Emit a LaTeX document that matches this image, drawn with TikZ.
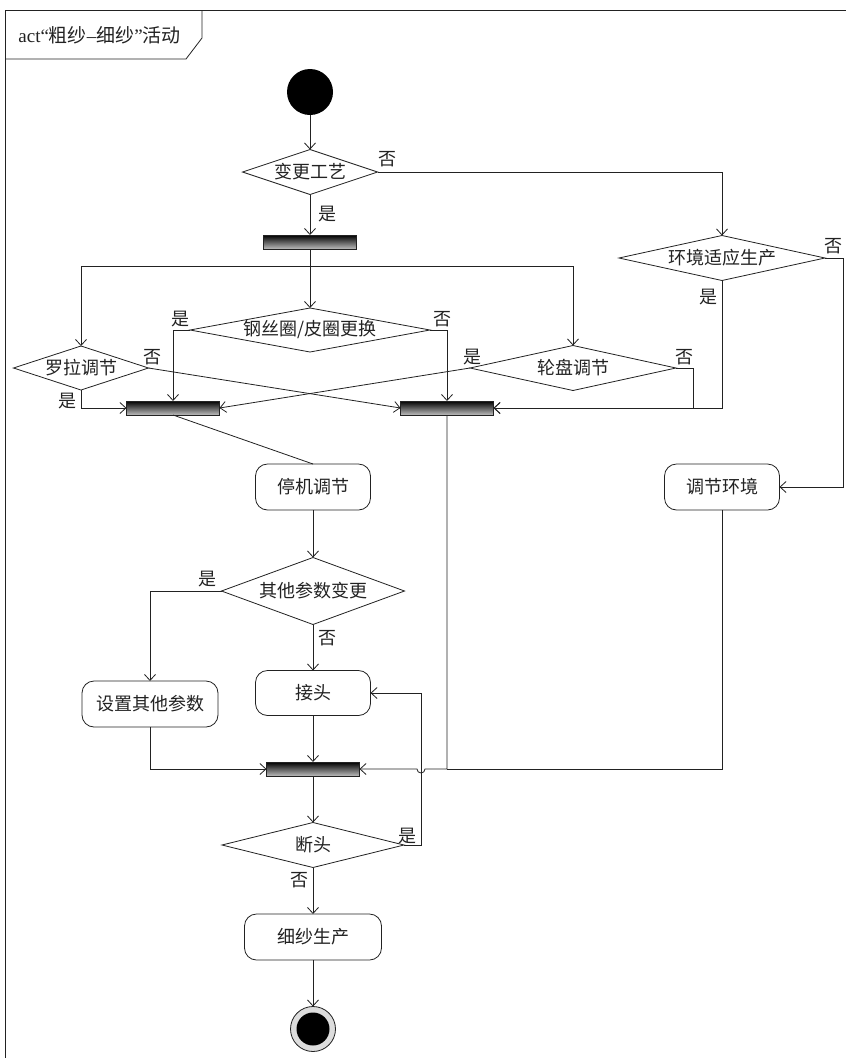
\documentclass[tikz,border=0pt]{standalone}
\usepackage{fontspec}
\setmainfont{Liberation Serif}
\newfontfamily\cjk{Noto Sans CJK SC}
\usepackage{xcolor}
\definecolor{ink}{HTML}{222222}
\definecolor{barlo}{HTML}{BDBDBD}
\definecolor{ringgray}{HTML}{DDDDDD}
\usetikzlibrary{arrows.meta,shapes.geometric,calc}

\begin{document}
\begin{tikzpicture}[x=1pt, y=-1pt, >={Straight Barb[length=6pt,width=11pt]},
	font=\cjk\fontsize{18}{20}\selectfont, line width=0.8pt, draw=ink, text=ink,
	actbox/.style={draw=ink, rectangle, rounded corners=12pt, minimum width=#1, minimum height=46pt, inner sep=0pt, outer sep=0pt},
	decision/.style 2 args={draw=ink, diamond, aspect=3, minimum width=#1, minimum height=#2, inner sep=0pt, outer sep=0pt},
	syncbar/.style={draw=ink, rectangle, top color=black, bottom color=barlo, minimum width=93pt, minimum height=14pt, inner sep=0pt, outer sep=0pt},
	lbl/.style={inner sep=0pt}]

		\useasboundingbox (0,0) rectangle (846,1058);
		\fill[white] (0,0) rectangle (846,1058);

		% ================= frame and title tab =================
		\draw[ink] (5,1058) -- (5,10) -- (846,10);
		\draw[ink] (5,59) -- (186,59) -- (202,38) -- (202,10);
		\node[anchor=west, inner sep=0pt, font=\cjk\fontsize{19}{21}\selectfont] (title) at (18,35) {{\rmfamily act“}粗纱{\rmfamily –}细纱{\rmfamily ”}活动};

		% ================= nodes =================
		\node[circle, fill=black, minimum size=46pt, inner sep=0pt, outer sep=0pt] (start) at (310,92) {};

		\node[decision={135pt}{45pt}] (gy) at (310,172) {变更工艺};
		\node[syncbar] (fork1) at (310,242) {};
		\coordinate (sp) at (310,266); % split of the fork

		\node[decision={135pt}{44pt}] (ll) at (81,368) {罗拉调节};
		\node[decision={240pt}{44pt}, aspect=5.5] (gs) at (310,330) {钢丝圈/皮圈更换};
		\node[decision={206pt}{45pt}, aspect=4] (lp) at (573,368) {轮盘调节};
		\node[decision={206pt}{45pt}, aspect=4] (hj) at (722,258) {环境适应生产};

		\node[syncbar] (bar1) at (173,408) {};
		\node[syncbar] (bar2) at (447,408) {};

		\node[actbox=115pt] (tjj) at (313,487) {停机调节};
		\node[actbox=115pt] (tj) at (722,487) {调节环境};
		\node[decision={183pt}{67pt}] (qt) at (313,591) {其他参数变更};
		\node[actbox=136pt] (sz) at (150,704) {设置其他参数};
		\node[actbox=115pt, minimum height=45pt] (jt) at (313,693) {接头};

		\node[syncbar] (bar3) at (313,769) {};
		\coordinate (m3) at (447,769); % where the right branches meet

		\node[decision={182pt}{45pt}, aspect=4] (dt) at (313,845) {断头};
		\node[actbox=137pt] (xs) at (313,937) {细纱生产};

		% final node: ring with black core
		\node[circle, draw=ink, fill=ringgray, minimum size=45pt, inner sep=0pt, outer sep=0pt] (end) at (313,1029) {};
		\fill[black] (end.center) circle (16.5pt);

		% ================= flows =================
		\draw[->] (start.south) -- (gy.north);
		\draw[->] (gy.east) -| (hj.north);
		\draw[->] (gy.south) -- (fork1.north);

		\draw[->] (fork1.south) -- (gs.north);
		\draw[->] (sp) -| (ll.north);
		\draw[->] (sp) -| (lp.north);

		\draw[->] (gs.west) -| (bar1.north);
		\draw[->] (gs.east) -| (bar2.north);

		\draw[->] (ll.east) -- (bar2.west);
		\draw[->] (ll.south) |- (bar1.west);

		\draw[->] (lp.west) -- (bar1.east);
		\draw[->] (lp.east) -- ++(17,0) |- (bar2.east);

		\draw[->] (hj.south) |- (bar2.east);
		\draw[->] (hj.east) -- ++(18,0) |- (tj.east);

		\draw (bar1.south) -- (tjj.north);
		\draw[->] (tjj.south) -- (qt.north);
		\draw[->] (qt.west) -| (sz.north);
		\draw[->] (qt.south) -- (jt.north);

		\draw[->] (sz.south) |- (bar3.west);
		\draw[->] (jt.south) -- (bar3.north);
		\draw (tj.south) |- (m3);
		% hop over the loop-back line
		\draw[->] (bar2.south) -- (m3) -- (425,769) arc[start angle=0, end angle=-180, radius=4pt] -- (bar3.east);

		\draw[->] (bar3.south) -- (dt.north);
		\draw[->] (dt.east) -- (421,845) -- (421,693) -- (jt.east);
		\draw[->] (dt.south) -- (xs.north);
		\draw[->] (xs.south) -- (end.north);

		% ================= guard labels =================
		\node[lbl] (gyn) at (387,159) {否};
		\node[lbl] (gyy) at (327,214) {是};
		\node[lbl] (gsy) at (180,319) {是};
		\node[lbl] (gsn) at (442,319) {否};
		\node[lbl] (lln) at (152,357) {否};
		\node[lbl] (lly) at (67,401) {是};
		\node[lbl] (lpy) at (472,357) {是};
		\node[lbl] (lpn) at (684,357) {否};
		\node[lbl] (hjn) at (833,246) {否};
		\node[lbl] (hjy) at (708,297) {是};
		\node[lbl] (qty) at (207,579) {是};
		\node[lbl] (qtn) at (327,638) {否};
		\node[lbl] (dty) at (407,836) {是};
		\node[lbl] (dtn) at (299,880) {否};

	\end{tikzpicture}
\end{document}
